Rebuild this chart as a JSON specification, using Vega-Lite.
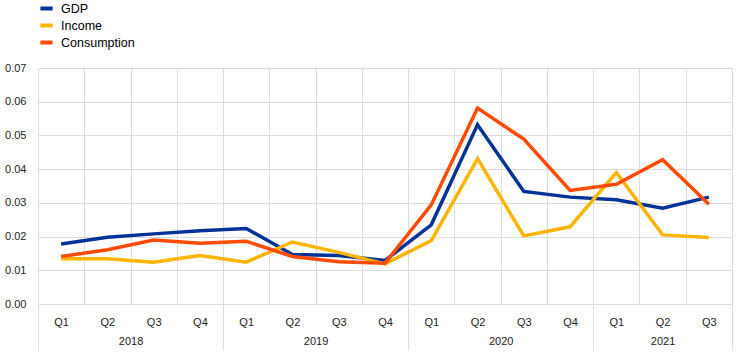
{
  "$schema": "https://vega.github.io/schema/vega-lite/v6.json",
  "width": 694,
  "height": 236,
  "autosize": {"type": "none"},
  "padding": {"left": 38, "top": 68, "right": 12, "bottom": 49},
  "background": "white",
  "config": {
    "font": "Liberation Sans",
    "view": {"stroke": null},
    "axis": {"labelFont": "Liberation Sans", "labelFontSize": 11, "labelColor": "#222222", "gridColor": "#dcdcdc", "domainColor": "#dcdcdc"}
  },
  "data": {
    "values": [
      {"period": "2018-Q1", "series": "GDP", "value": 0.0178},
      {"period": "2018-Q2", "series": "GDP", "value": 0.0198},
      {"period": "2018-Q3", "series": "GDP", "value": 0.0208},
      {"period": "2018-Q4", "series": "GDP", "value": 0.0217},
      {"period": "2019-Q1", "series": "GDP", "value": 0.0224},
      {"period": "2019-Q2", "series": "GDP", "value": 0.0147},
      {"period": "2019-Q3", "series": "GDP", "value": 0.0144},
      {"period": "2019-Q4", "series": "GDP", "value": 0.0129},
      {"period": "2020-Q1", "series": "GDP", "value": 0.0235},
      {"period": "2020-Q2", "series": "GDP", "value": 0.0532},
      {"period": "2020-Q3", "series": "GDP", "value": 0.0334},
      {"period": "2020-Q4", "series": "GDP", "value": 0.0317},
      {"period": "2021-Q1", "series": "GDP", "value": 0.0309},
      {"period": "2021-Q2", "series": "GDP", "value": 0.0284},
      {"period": "2021-Q3", "series": "GDP", "value": 0.0317},
      {"period": "2018-Q1", "series": "Income", "value": 0.0134},
      {"period": "2018-Q2", "series": "Income", "value": 0.0134},
      {"period": "2018-Q3", "series": "Income", "value": 0.0124},
      {"period": "2018-Q4", "series": "Income", "value": 0.0144},
      {"period": "2019-Q1", "series": "Income", "value": 0.0124},
      {"period": "2019-Q2", "series": "Income", "value": 0.0184},
      {"period": "2019-Q3", "series": "Income", "value": 0.0153},
      {"period": "2019-Q4", "series": "Income", "value": 0.0119},
      {"period": "2020-Q1", "series": "Income", "value": 0.0188},
      {"period": "2020-Q2", "series": "Income", "value": 0.0431},
      {"period": "2020-Q3", "series": "Income", "value": 0.0202},
      {"period": "2020-Q4", "series": "Income", "value": 0.0229},
      {"period": "2021-Q1", "series": "Income", "value": 0.039},
      {"period": "2021-Q2", "series": "Income", "value": 0.0205},
      {"period": "2021-Q3", "series": "Income", "value": 0.0197},
      {"period": "2018-Q1", "series": "Consumption", "value": 0.0141},
      {"period": "2018-Q2", "series": "Consumption", "value": 0.0161},
      {"period": "2018-Q3", "series": "Consumption", "value": 0.019},
      {"period": "2018-Q4", "series": "Consumption", "value": 0.018},
      {"period": "2019-Q1", "series": "Consumption", "value": 0.0186},
      {"period": "2019-Q2", "series": "Consumption", "value": 0.0141},
      {"period": "2019-Q3", "series": "Consumption", "value": 0.0125},
      {"period": "2019-Q4", "series": "Consumption", "value": 0.0121},
      {"period": "2020-Q1", "series": "Consumption", "value": 0.0294},
      {"period": "2020-Q2", "series": "Consumption", "value": 0.0581},
      {"period": "2020-Q3", "series": "Consumption", "value": 0.0489},
      {"period": "2020-Q4", "series": "Consumption", "value": 0.0337},
      {"period": "2021-Q1", "series": "Consumption", "value": 0.0355},
      {"period": "2021-Q2", "series": "Consumption", "value": 0.0428},
      {"period": "2021-Q3", "series": "Consumption", "value": 0.0296}
    ]
  },
  "layer": [
    {
      "mark": {"type": "point", "opacity": 0},
      "encoding": {
        "x": {
          "datum": 0, "type": "quantitative",
          "scale": {"domain": [0, 15], "nice": false, "zero": false},
          "axis": {
            "orient": "bottom", "title": null, "domain": false, "grid": true,
            "values": [0, 1, 2, 3, 4, 5, 6, 7, 8, 9, 10, 11, 12, 13, 13.5, 14, 15],
            "labelExpr": "datum.value == 2 ? '2018' : datum.value == 6 ? '2019' : datum.value == 10 ? '2020' : datum.value == 13.5 ? '2021' : ''",
            "tickSize": 46, "tickColor": "#dcdcdc",
            "tickOpacity": {"condition": {"test": "datum.value == 0 || datum.value == 4 || datum.value == 8 || datum.value == 12 || datum.value == 15", "value": 1}, "value": 0},
            "gridOpacity": {"condition": {"test": "datum.value == 13.5", "value": 0}, "value": 1},
            "labelPadding": -15, "labelFlush": false, "labelOverlap": false
          }
        }
      }
    },
    {
      "mark": {"type": "line", "strokeWidth": 3.5},
      "encoding": {
        "x": {
          "field": "period", "type": "ordinal",
          "axis": {"orient": "bottom", "title": null, "labelExpr": "slice(datum.value, 5)", "labelAngle": 0, "ticks": false, "grid": false, "labelPadding": 12}
        },
        "y": {
          "field": "value", "type": "quantitative",
          "scale": {"domain": [0, 0.07], "nice": false},
          "axis": {"title": null, "values": [0, 0.01, 0.02, 0.03, 0.04, 0.05, 0.06, 0.07], "format": ".2f", "ticks": false, "domain": false, "labelPadding": 12, "grid": true}
        },
        "color": {
          "field": "series", "type": "nominal",
          "scale": {"domain": ["GDP", "Income", "Consumption"], "range": ["#003299", "#FFB400", "#FF4B00"]},
          "legend": {"title": null, "orient": "none", "legendX": 0, "legendY": -68, "symbolStrokeWidth": 4, "symbolSize": 150, "labelFontSize": 12.5, "labelColor": "#000000", "labelOffset": 6, "rowPadding": 0}
        }
      }
    }
  ],
  "resolve": {"scale": {"x": "independent"}, "axis": {"x": "independent"}}
}
